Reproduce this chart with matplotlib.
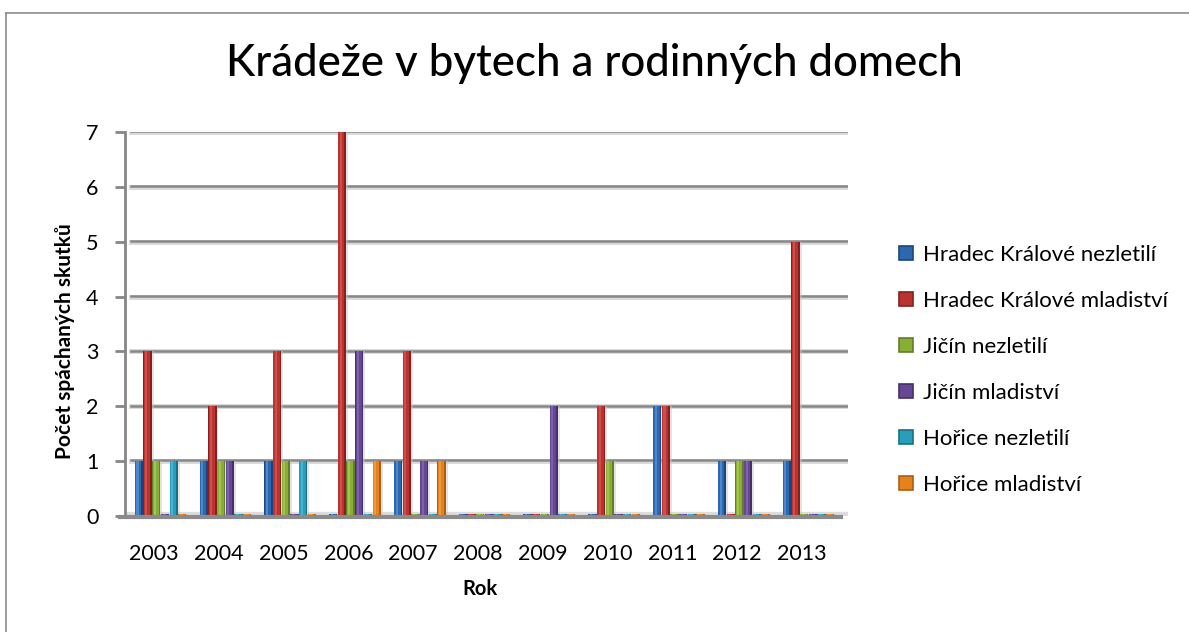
import numpy as np
import matplotlib.pyplot as plt
from matplotlib.patches import Patch
from matplotlib.lines import Line2D

# -----------------------------
# Data
# -----------------------------
years = ["2003", "2004", "2005", "2006", "2007", "2008",
         "2009", "2010", "2011", "2012", "2013"]
series_names = ["Hradec Králové nezletilí", "Hradec Králové mladiství",
                "Jičín nezletilí", "Jičín mladiství",
                "Hořice nezletilí", "Hořice mladiství"]
hk_nez = [1, 1, 1, 0, 1, 0, 0, 0, 2, 1, 1]
hk_mla = [3, 2, 3, 7, 3, 0, 0, 2, 2, 0, 5]
ji_nez = [1, 1, 1, 1, 0, 0, 0, 1, 0, 1, 0]
ji_mla = [0, 1, 0, 3, 1, 0, 2, 0, 0, 1, 0]
ho_nez = [1, 0, 1, 0, 0, 0, 0, 0, 0, 0, 0]
ho_mla = [0, 0, 0, 1, 1, 0, 0, 0, 0, 0, 0]
series = [hk_nez, hk_mla, ji_nez, ji_mla, ho_nez, ho_mla]

base_cols = ["#2C68B0", "#B93431", "#88AE36", "#664794", "#299EBA", "#E5821B"]
dark_cols = ["#1C4679", "#86201E", "#627F27", "#46306B", "#1A6F85", "#AC5E17"]
light_cols = ["#4F87CC", "#D24D49", "#A0C44F", "#7F60AD", "#48B6D0", "#F09A3C"]

# -----------------------------
# Figure
# -----------------------------
plt.rcParams['font.family'] = ['Lato', 'DejaVu Sans']
W, H = 1189, 632
fig = plt.figure(figsize=(W / 100, H / 100), dpi=100)

# outer chart border (top / left)
fig.add_artist(Line2D([6 / W, 6 / W], [0, 1 - 13 / H], color="#8C8C8C", lw=1.2))
fig.add_artist(Line2D([6 / W, 1], [1 - 13 / H, 1 - 13 / H], color="#8C8C8C", lw=1.2))

ax = fig.add_axes([125 / W, 116 / H, 723 / W, 384 / H])
ax.set_xlim(-0.45, 10.71)
ax.set_ylim(0, 7)

x = np.arange(len(years))
step = 0.134
width = 0.128
offset = 0.1

for gl in range(1, 8):
    ax.axhline(gl, color="#D9D9D9", lw=3.5, zorder=0.5, xmin=0.008)
    ax.axhline(gl + 0.012, color="#888888", lw=1.8, zorder=0.6, xmin=0.008)

for i, vals in enumerate(series):
    v = np.maximum(np.array(vals, dtype=float), 0.04)
    pos = x + offset + (i - 2.5) * step
    ax.bar(pos + 0.03, v, width=width, color="#C8C8C8", alpha=0.5, zorder=1)
    ax.bar(pos, v, width=width, color=dark_cols[i], zorder=2)
    ax.bar(pos - 0.01, v, width=width * 0.75, color=base_cols[i], zorder=3)
    ax.bar(pos - 0.022, v, width=width * 0.25, color=light_cols[i], zorder=4)

# floor
ax.axhline(0, color="#DCDCDC", lw=6, zorder=0.4)
ax.plot([-0.52, 10.6], [-0.02, -0.02], color="#8A8A8A", lw=3, zorder=5,
        clip_on=False)

for s in ["top", "right", "bottom"]:
    ax.spines[s].set_visible(False)
ax.spines["left"].set_color("#868686")
ax.spines["left"].set_linewidth(2)

ax.set_yticks(range(0, 8))
ax.tick_params(axis="y", length=7, width=2, color="#868686",
               labelsize=15.5, pad=12)
ax.set_xticks(x)
ax.set_xticklabels(years)
ax.tick_params(axis="x", length=0, labelsize=15.5, pad=20)

ax.set_xlabel("Rok", fontsize=14.5, fontweight="bold")
ax.xaxis.set_label_coords((480 - 125) / 723, (516 - 579) / 384)
ax.set_ylabel("Počet spáchaných skutků", fontsize=15, fontweight="bold")
ax.yaxis.set_label_coords((75 - 125) / 723, (516 - 341) / 384)

fig.text(0.5, 1 - 64 / H, "Krádeže v bytech a rodinných domech",
         ha="center", va="center", fontsize=31.5, fontweight="medium")

handles = [Patch(facecolor=base_cols[i], edgecolor=dark_cols[i], lw=1.2)
           for i in range(len(series_names))]
fig.legend(handles, series_names, loc="upper left",
           bbox_to_anchor=(890 / W, 1 - 236 / H), frameon=False,
           fontsize=16, handlelength=0.62, handleheight=0.62,
           handletextpad=0.45, labelspacing=1.17, borderaxespad=0)

fig.savefig("out.png", dpi=100, facecolor="white")
